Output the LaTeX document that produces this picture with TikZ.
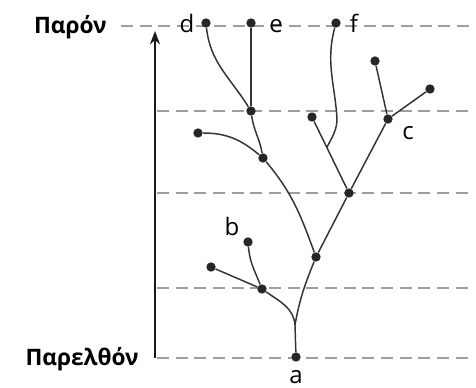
\documentclass[tikz,border=0pt]{standalone}
\usepackage{fontspec}
\setmainfont{Open Sans}
\usetikzlibrary{arrows.meta,calc}

\begin{document}
\begin{tikzpicture}[
  x=0.75pt, y=0.75pt,
  dot/.style={circle, fill=black!85, inner sep=0pt, minimum size=7pt},
  branch/.style={line width=1.1pt, black!80},
  level/.style={black!38, line width=1.8pt, dash pattern=on 9pt off 5pt},
  lbl/.style={font=\fontsize{18}{20}\selectfont, inner sep=0pt, anchor=base},
  era/.style={font=\fontsize{17}{20}\selectfont\bfseries, inner sep=0pt, anchor=base east}
]
  \useasboundingbox (0,0) rectangle (476,387);

  % --- niveaux de temps ---
  \foreach \yy in {29, 99, 194, 276}
    \draw[level] (157,\yy) -- (472,\yy);
  \draw[level] (121,361) -- (472,361);

  \node[era] (now) at (107,354) {Παρόν};
  \node[era] (past) at (139,22) {Παρελθόν};

  % --- fleche du temps ---
  \coordinate (tbot) at (155,29);
  \coordinate (ttop) at (155,356);
  \draw[line width=1.6pt, black!90, -{Stealth[length=10pt, width=7.5pt]}] (tbot) -- (ttop);

  % --- noeuds de l'arbre ---
  \node[dot] (a) at (296,30) {};
  \coordinate (j0) at (295,62);
  \node[dot] (n1) at (262,98) {};
  \node[dot] (n2) at (316,130) {};
  \node[dot] (b) at (248,145) {};
  \node[dot] (l1) at (211,120) {};
  \node[dot] (n3) at (349,194) {};
  \node[dot] (n4) at (263,229) {};
  \node[dot] (l2) at (198,254) {};
  \node[dot] (n5) at (251,276) {};
  \node[dot] (d) at (206,364) {};
  \node[dot] (e) at (251,364) {};
  \node[dot] (l3) at (312,270) {};
  \coordinate (j1) at ($(n3)!0.6!(l3)$);
  \coordinate (fk) at (337,269);
  \node[dot] (f) at (336,364) {};
  \node[dot] (c) at (388,268) {};
  \node[dot] (l4) at (375,326) {};
  \node[dot] (l5) at (430,298) {};

  % --- branches ---
  \draw[branch] (a) -- (j0);
  \draw[branch] (j0) to[out=95, in=-35] (n1);
  \draw[branch] (j0) to[out=80, in=-112] (n2);
  \draw[branch] (n1) to[out=112, in=-85] (b);
  \draw[branch] (n1) -- (l1);
  \draw[branch] (n2) -- (n3);
  \draw[branch] (n2) to[out=110, in=-50] (n4);
  \draw[branch] (n4) to[out=100, in=-82] (n5);
  \draw[branch] (n4) to[out=140, in=0] (l2);
  \draw[branch] (n5) to[out=122, in=-84] (d);
  \draw[branch] (n5) -- (e);
  \draw[branch] (n3) -- (l3);
  \draw[branch] (j1) to[out=62, in=-90] (fk) to[out=94, in=-105] (f);
  \draw[branch] (n3) -- (c);
  \draw[branch] (c) -- (l4);
  \draw[branch] (c) -- (l5);

  % --- etiquettes ---
  \node[lbl] (la) at (296,4) {a};
  \node[lbl] (lb) at (232,152) {b};
  \node[lbl] (lc) at (408,248) {c};
  \node[lbl] (ld) at (187,355) {d};
  \node[lbl] (le) at (276,355) {e};
  \node[lbl] (lf) at (354,355) {f};
\end{tikzpicture}
\end{document}
